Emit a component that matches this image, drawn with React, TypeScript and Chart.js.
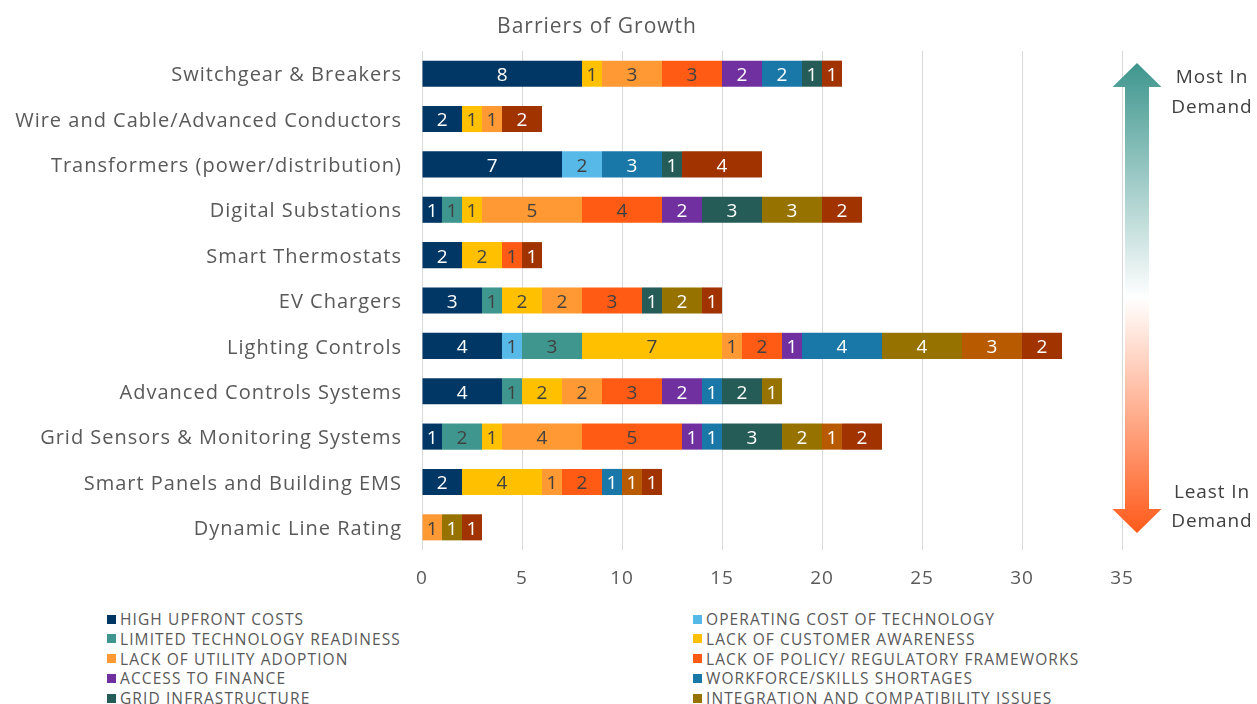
import React, { useEffect, useRef } from "react";
import { Chart, registerables } from "chart.js";

Chart.register(...registerables);

const categories = [
  "Switchgear & Breakers",
  "Wire and Cable/Advanced Conductors",
  "Transformers (power/distribution)",
  "Digital Substations",
  "Smart Thermostats",
  "EV Chargers",
  "Lighting Controls",
  "Advanced Controls Systems",
  "Grid Sensors & Monitoring Systems",
  "Smart Panels and Building EMS",
  "Dynamic Line Rating",
];

const highUpfrontCosts = [8, 2, 7, 1, 2, 3, 4, 4, 1, 2, null];
const operatingCost = [null, null, 2, null, null, null, 1, null, null, null, null];
const limitedTechReadiness = [null, null, null, 1, null, 1, 3, 1, 2, null, null];
const customerAwareness = [1, 1, null, 1, 2, 2, 7, 2, 1, 4, null];
const utilityAdoption = [3, 1, null, 5, null, 2, 1, 2, 4, 1, 1];
const policyFrameworks = [3, null, null, 4, 1, 3, 2, 3, 5, 2, null];
const accessToFinance = [2, null, null, 2, null, null, 1, 2, 1, null, null];
const workforceShortages = [2, null, 3, null, null, null, 4, 1, 1, 1, null];
const gridInfrastructure = [1, null, 1, 3, null, 1, null, 2, 3, null, null];
const integrationIssues = [null, null, null, 3, null, 2, 4, 1, 2, null, 1];
const otherBarrierA = [null, null, null, null, null, null, 3, null, 1, 1, null];
const otherBarrierB = [1, 2, 4, 2, 1, 1, 2, null, 2, 1, 1];

const xTicks = [0, 5, 10, 15, 20, 25, 30, 35];

const seriesDefs = [
  { label: "HIGH UPFRONT COSTS", data: highUpfrontCosts, color: "#003764", dark: false, legend: true },
  { label: "OPERATING COST OF TECHNOLOGY", data: operatingCost, color: "#56B9E8", dark: true, legend: true },
  { label: "LIMITED TECHNOLOGY READINESS", data: limitedTechReadiness, color: "#3F968F", dark: true, legend: true },
  { label: "LACK OF CUSTOMER AWARENESS", data: customerAwareness, color: "#FFC000", dark: true, legend: true },
  { label: "LACK OF UTILITY ADOPTION", data: utilityAdoption, color: "#FF9933", dark: true, legend: true },
  { label: "LACK OF POLICY/ REGULATORY FRAMEWORKS", data: policyFrameworks, color: "#FF5B14", dark: true, legend: true },
  { label: "ACCESS TO FINANCE", data: accessToFinance, color: "#7030A0", dark: false, legend: true },
  { label: "WORKFORCE/SKILLS SHORTAGES", data: workforceShortages, color: "#1A78A8", dark: false, legend: true },
  { label: "GRID INFRASTRUCTURE", data: gridInfrastructure, color: "#265C57", dark: false, legend: true },
  { label: "INTEGRATION AND COMPATIBILITY ISSUES", data: integrationIssues, color: "#967300", dark: false, legend: true },
  { label: "OTHER A", data: otherBarrierA, color: "#B85B00", dark: false, legend: false },
  { label: "OTHER B", data: otherBarrierB, color: "#A03300", dark: false, legend: false },
];

const FONT = "'Open Sans', 'Noto Sans', sans-serif";

const spacing = {
  id: "spacing",
  beforeDraw(chart: any) {
    (chart.ctx as any).letterSpacing = "1px";
  },
  afterDraw(chart: any) {
    (chart.ctx as any).letterSpacing = "0px";
  },
};

const valueLabels = {
  id: "valueLabels",
  afterDatasetsDraw(chart: any) {
    const ctx = chart.ctx;
    ctx.save();
    (ctx as any).letterSpacing = "0px";
    ctx.font = `19px ${FONT}`;
    ctx.textAlign = "center";
    ctx.textBaseline = "middle";
    chart.data.datasets.forEach((ds: any, di: number) => {
      const meta = chart.getDatasetMeta(di);
      meta.data.forEach((el: any, i: number) => {
        const v = ds.data[i];
        if (v == null || v === 0) return;
        const cx = (el.x + el.base) / 2;
        ctx.fillStyle = seriesDefs[di].dark ? "#404040" : "#FFFFFF";
        ctx.fillText(String(v), cx, el.y + 2);
      });
    });
    ctx.restore();
  },
};

const demandArrow = {
  id: "demandArrow",
  afterDraw(chart: any) {
    const { ctx, chartArea } = chart;
    const cx = chartArea.right + 15;
    const top = chartArea.top + 12;
    const bottom = chartArea.bottom - 17;
    const shaftHalf = 12;
    const headHalf = 24.5;
    const headLen = 24;
    const g = ctx.createLinearGradient(0, top, 0, bottom);
    g.addColorStop(0, "#3E968E");
    g.addColorStop(0.5, "#FFFFFF");
    g.addColorStop(1, "#FF5A1A");
    ctx.save();
    ctx.beginPath();
    ctx.moveTo(cx, top);
    ctx.lineTo(cx + headHalf, top + headLen);
    ctx.lineTo(cx + shaftHalf, top + headLen);
    ctx.lineTo(cx + shaftHalf, bottom - headLen);
    ctx.lineTo(cx + headHalf, bottom - headLen);
    ctx.lineTo(cx, bottom);
    ctx.lineTo(cx - headHalf, bottom - headLen);
    ctx.lineTo(cx - shaftHalf, bottom - headLen);
    ctx.lineTo(cx - shaftHalf, top + headLen);
    ctx.lineTo(cx - headHalf, top + headLen);
    ctx.closePath();
    ctx.fillStyle = g;
    ctx.fill();
    ctx.restore();
  },
};

export default function App() {
  const canvasRef = useRef<HTMLCanvasElement | null>(null);

  useEffect(() => {
    if (!canvasRef.current) return;
    const chart = new Chart(canvasRef.current, {
      type: "bar",
      data: {
        labels: categories,
        datasets: seriesDefs.map((s) => ({
          label: s.label,
          data: s.data as any,
          backgroundColor: s.color,
          borderWidth: 0,
          categoryPercentage: 1,
          barPercentage: 0.575,
        })),
      },
      options: {
        indexAxis: "y",
        responsive: false,
        animation: false,
        devicePixelRatio: 1,
        layout: { padding: { top: 51, right: 135, bottom: 10, left: 0 } },
        plugins: {
          legend: { display: false },
          title: { display: false },
          tooltip: { enabled: false },
        },
        scales: {
          x: {
            stacked: true,
            min: 0,
            max: 35,
            afterBuildTicks(scale: any) {
              scale.ticks = xTicks.map((v) => ({ value: v }));
            },
            afterFit(scale: any) {
              scale.height = 40;
            },
            grid: { color: "#D9D9D9", drawTicks: false, lineWidth: 1 },
            border: { display: false },
            ticks: { color: "#595959", font: { family: FONT, size: 19 }, padding: 17 },
          },
          y: {
            stacked: true,
            afterFit(scale: any) {
              scale.width = 422;
            },
            grid: { display: false },
            border: { display: false },
            ticks: { color: "#595959", font: { family: FONT, size: 20 }, padding: 12, labelOffset: 2 },
          },
        },
      },
      plugins: [spacing, valueLabels, demandArrow],
    });
    return () => chart.destroy();
  }, []);

  const legendItems = seriesDefs.filter((s) => s.legend);

  return (
    <div
      style={{
        position: "absolute",
        left: 0,
        top: 0,
        width: 1257,
        height: 704,
        background: "#FFFFFF",
        overflow: "hidden",
        fontFamily: FONT,
      }}
    >
      <canvas ref={canvasRef} width={1257} height={600} style={{ position: "absolute", left: 0, top: 0 }} />
      <div
        style={{
          position: "absolute",
          left: 0,
          top: 11,
          width: 1194,
          textAlign: "center",
          fontSize: 21,
          letterSpacing: "1px",
          lineHeight: "28px",
          color: "#595959",
        }}
      >
        Barriers of Growth
      </div>
      {[
        { t: "Most In", y: 76 },
        { t: "Demand", y: 106 },
        { t: "Least In", y: 491 },
        { t: "Demand", y: 520 },
      ].map((o, i) => (
        <div
          key={i}
          style={{
            position: "absolute",
            left: 1160,
            width: 104,
            top: o.y - 13,
            lineHeight: "26px",
            fontSize: 19,
            letterSpacing: "0.9px",
            textAlign: "center",
            color: "#404040",
          }}
        >
          {o.t}
        </div>
      ))}
      {legendItems.map((s, i) => {
        const col = i % 2;
        const row = Math.floor(i / 2);
        return (
          <div
            key={s.label}
            style={{
              position: "absolute",
              left: col === 0 ? 107 : 693,
              top: 609 + row * 19.75,
              height: 20,
              display: "flex",
              alignItems: "center",
              whiteSpace: "nowrap",
              fontSize: 15.5,
              letterSpacing: "1.1px",
              color: "#595959",
            }}
          >
            <span style={{ display: "inline-block", width: 9, height: 9, background: s.color, marginRight: 4 }} />
            {s.label}
          </div>
        );
      })}
    </div>
  );
}
